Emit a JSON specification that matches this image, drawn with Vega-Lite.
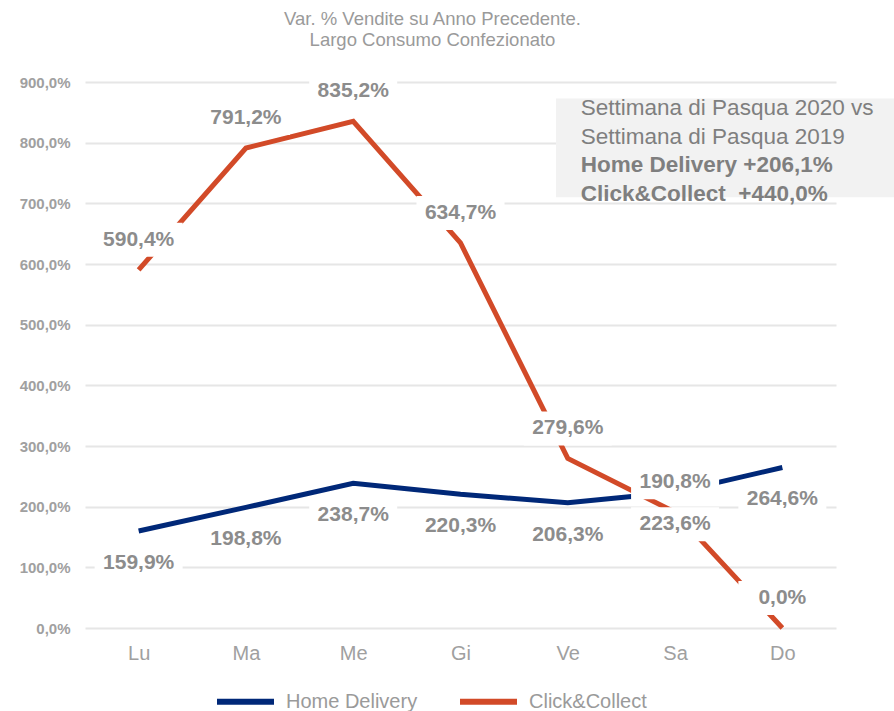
{
  "$schema": "https://vega.github.io/schema/vega-lite/v6.json",
  "width": 751,
  "height": 546,
  "autosize": {"type": "none"},
  "padding": {"left": 85, "top": 82, "right": 58, "bottom": 83},
  "background": "white",
  "title": {
    "text": ["Var. % Vendite su Anno Precedente.", "Largo Consumo Confezionato"],
    "fontSize": 18.5,
    "fontWeight": "normal",
    "font": "Liberation Sans",
    "color": "#9a9a9a",
    "lineHeight": 21,
    "anchor": "middle",
    "frame": "group",
    "dx": -28,
    "offset": 25
  },
  "data": {
    "values": [
      {"day": "Lu", "series": "Home Delivery", "value": 159.9, "label": "159,9%"},
      {"day": "Ma", "series": "Home Delivery", "value": 198.8, "label": "198,8%"},
      {"day": "Me", "series": "Home Delivery", "value": 238.7, "label": "238,7%"},
      {"day": "Gi", "series": "Home Delivery", "value": 220.3, "label": "220,3%"},
      {"day": "Ve", "series": "Home Delivery", "value": 206.3, "label": "206,3%"},
      {"day": "Sa", "series": "Home Delivery", "value": 223.6, "label": "223,6%"},
      {"day": "Do", "series": "Home Delivery", "value": 264.6, "label": "264,6%"},
      {"day": "Lu", "series": "Click&Collect", "value": 590.4, "label": "590,4%"},
      {"day": "Ma", "series": "Click&Collect", "value": 791.2, "label": "791,2%"},
      {"day": "Me", "series": "Click&Collect", "value": 835.2, "label": "835,2%"},
      {"day": "Gi", "series": "Click&Collect", "value": 634.7, "label": "634,7%"},
      {"day": "Ve", "series": "Click&Collect", "value": 279.6, "label": "279,6%"},
      {"day": "Sa", "series": "Click&Collect", "value": 190.8, "label": "190,8%"},
      {"day": "Do", "series": "Click&Collect", "value": 0.0, "label": "0,0%"}
    ]
  },
  "encoding": {
    "x": {
      "field": "day",
      "type": "ordinal",
      "sort": ["Lu", "Ma", "Me", "Gi", "Ve", "Sa", "Do"],
      "scale": {"type": "point", "padding": 0.5},
      "axis": {
        "title": null,
        "labelAngle": 0,
        "ticks": false,
        "domain": false,
        "grid": false,
        "labelFontSize": 20,
        "labelFont": "Liberation Sans",
        "labelColor": "#a0a0a0",
        "labelPadding": 15
      }
    },
    "y": {
      "field": "value",
      "type": "quantitative",
      "scale": {"domain": [0, 900], "nice": false},
      "axis": {
        "title": null,
        "values": [0, 100, 200, 300, 400, 500, 600, 700, 800, 900],
        "labelExpr": "replace(format(datum.value, '.1f'), '.', ',') + '%'",
        "ticks": false,
        "domain": false,
        "grid": true,
        "gridColor": "#e6e6e6",
        "gridWidth": 2,
        "labelFontSize": 15,
        "labelFontWeight": "bold",
        "labelFont": "Liberation Sans",
        "labelColor": "#a0a0a0",
        "labelPadding": 15
      }
    }
  },
  "layer": [
    {
      "transform": [{"filter": "datum.day == 'Lu' && datum.series == 'Home Delivery'"}],
      "mark": {"type": "rect", "fill": "#f2f2f2"},
      "encoding": {
        "x": {"value": 471},
        "x2": {"value": 809},
        "y": {"datum": 873},
        "y2": {"datum": 710}
      }
    },
    {
      "mark": {"type": "line", "strokeWidth": 5},
      "encoding": {
        "color": {
          "field": "series",
          "type": "nominal",
          "scale": {"domain": ["Home Delivery", "Click&Collect"], "range": ["#002878", "#d24a28"]},
          "legend": {
            "title": null,
            "orient": "none",
            "legendX": 129,
            "legendY": 588,
            "direction": "horizontal",
            "symbolType": "stroke",
            "symbolSize": 3249,
            "symbolStrokeWidth": 6,
            "labelFontSize": 20,
            "labelFont": "Liberation Sans",
            "labelColor": "#9a9a9a",
            "labelOffset": 9,
            "columnPadding": 30,
            "padding": 0
          }
        }
      }
    },
    {
      "transform": [{"filter": "datum.series == 'Click&Collect'"}],
      "mark": {"type": "point", "shape": "M-1,-1.068H1V-0.295H-1Z", "filled": true, "fill": "white", "opacity": 1, "strokeWidth": 0, "size": 7744}
    },
    {
      "transform": [{"filter": "datum.series == 'Home Delivery'"}],
      "mark": {"type": "point", "shape": "M-1,0.341H1V1.114H-1Z", "filled": true, "fill": "white", "opacity": 1, "strokeWidth": 0, "size": 7744}
    },
    {
      "transform": [{"filter": "datum.series == 'Click&Collect'"}],
      "mark": {"type": "text", "dy": -30, "baseline": "middle", "fontSize": 21, "fontWeight": "bold", "font": "Liberation Sans", "color": "#8c8c8c"},
      "encoding": {"text": {"field": "label"}}
    },
    {
      "transform": [{"filter": "datum.series == 'Home Delivery'"}],
      "mark": {"type": "text", "dy": 32, "baseline": "middle", "fontSize": 21, "fontWeight": "bold", "font": "Liberation Sans", "color": "#8c8c8c"},
      "encoding": {"text": {"field": "label"}}
    },
    {
      "transform": [{"filter": "datum.day == 'Lu' && datum.series == 'Home Delivery'"}],
      "mark": {"type": "text", "align": "left", "baseline": "alphabetic", "dx": 13, "fontSize": 22.5, "font": "Liberation Sans", "color": "#7f7f7f", "lineHeight": 29,
        "text": ["Settimana di Pasqua 2020 vs", "Settimana di Pasqua 2019"]},
      "encoding": {"x": {"datum": "Ve", "type": "ordinal"}, "y": {"datum": 845.6}}
    },
    {
      "transform": [{"filter": "datum.day == 'Lu' && datum.series == 'Home Delivery'"}],
      "mark": {"type": "text", "align": "left", "baseline": "alphabetic", "dx": 13, "fontSize": 22.5, "fontWeight": "bold", "font": "Liberation Sans", "color": "#7f7f7f", "lineHeight": 29,
        "text": ["Home Delivery +206,1%", "Click&Collect\u00a0 +440,0%"]},
      "encoding": {"x": {"datum": "Ve", "type": "ordinal"}, "y": {"datum": 751.6}}
    }
  ],
  "config": {
    "view": {"stroke": null}
  }
}
